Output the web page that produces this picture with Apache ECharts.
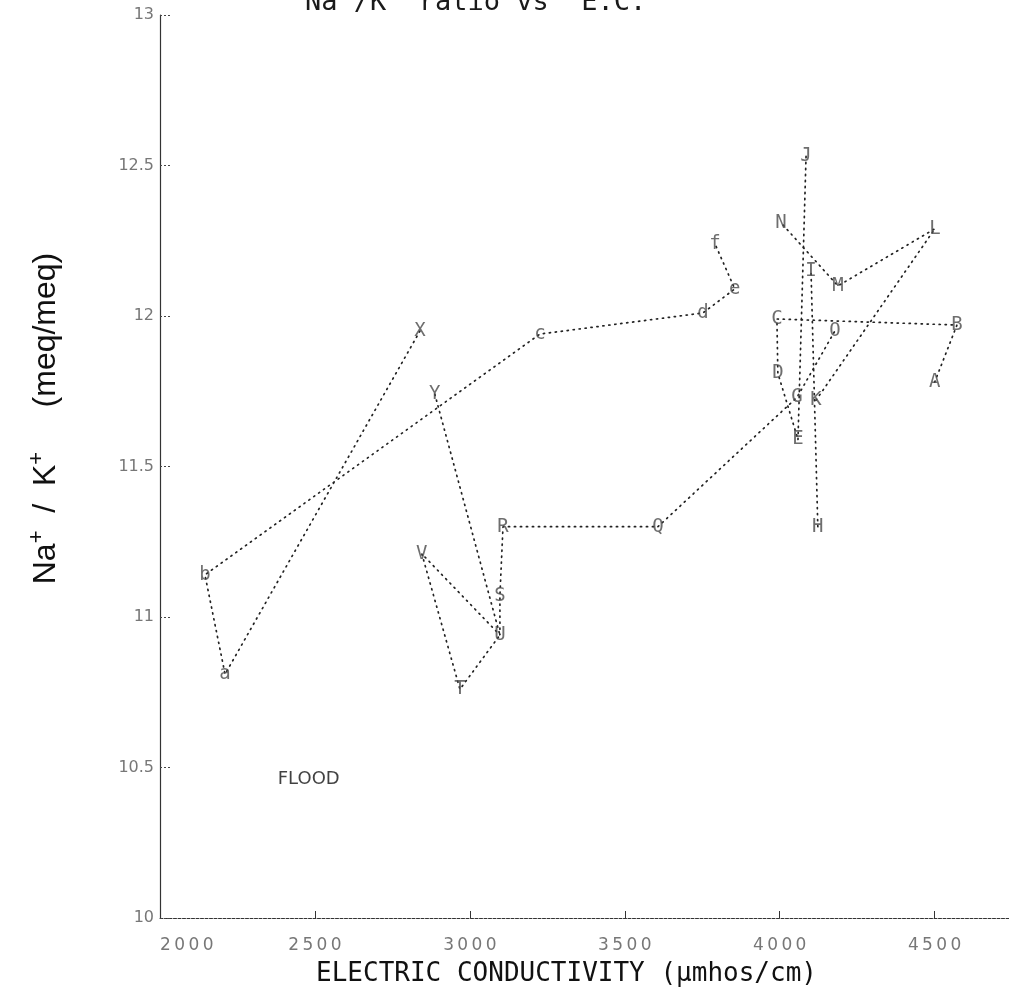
<!DOCTYPE html>
<html>
<head>
<meta charset="utf-8">
<script src="https://cdn.jsdelivr.net/npm/echarts@6/dist/echarts.min.js"></script>
<style>
  html, body { margin: 0; padding: 0; background: #ffffff; }
  #chart { width: 1009px; height: 1007px; }
</style>
</head>
<body>
<div id="chart"></div>
<script>
// Sampling points: letter code, electric conductivity (umhos/cm), Na+/K+ ratio (meq/meq)
const pointLabels  = ['A', 'B', 'C', 'D', 'E', 'G', 'K', 'H', 'I', 'J', 'L', 'M', 'N', 'O', 'Q', 'R', 'S', 'U', 'T', 'V', 'X', 'Y', 'a', 'b', 'c', 'd', 'e', 'f'];
const conductivity = [4500, 4572, 3991, 3994, 4059, 4056, 4117, 4123, 4101, 4085, 4501, 4188, 4004, 4178, 3607, 3107, 3097, 3097, 2968, 2845, 2839, 2887, 2210, 2145, 3226, 3752, 3855, 3791];
const naKRatio     = [11.78, 11.97, 11.99, 11.81, 11.59, 11.73, 11.72, 11.30, 12.15, 12.53, 12.29, 12.10, 12.31, 11.95, 11.30, 11.30, 11.07, 10.94, 10.76, 11.21, 11.95, 11.74, 10.81, 11.14, 11.94, 12.01, 12.09, 12.24];

// Dotted traces joining the sampling points, by letter code
const traces = [
  ['X', 'a', 'b', 'c', 'd', 'e', 'f'],
  ['A', 'B', 'C', 'D', 'E'],
  ['J', 'E'],
  ['Q', 'G', 'O'],
  ['H', 'I'],
  ['K', 'L', 'M', 'N'],
  ['Y', 'U', 'T', 'V', 'U', 'S', 'R', 'Q']
];

// Axis ticks
const xTicks = [2000, 2500, 3000, 3500, 4000, 4500];
const yTicks = [10, 10.5, 11, 11.5, 12, 12.5, 13];
const xAxisEnd = 4740;

// Annotation
const noteText  = ['FLOOD'];
const noteEC    = [2480];
const noteRatio = [10.46];

const pointOf = code => {
  const i = pointLabels.indexOf(code);
  return [conductivity[i], naKRatio[i]];
};

const traceSeries = traces.map(t => ({
  type: 'line',
  data: t.map(pointOf),
  symbol: 'none',
  silent: true,
  z: 2,
  lineStyle: { color: '#222', width: 1.7, type: [1.2, 4.8], cap: 'round' }
}));

const chart = echarts.init(document.getElementById('chart'), null, { renderer: 'canvas' });

chart.setOption({
  animation: false,
  backgroundColor: '#ffffff',
  title: {
    text: '{n|Na}{s|+}{n|/K}{s|+}{n| ratio vs  E.C.}',
    left: 300,
    top: -29,
    textStyle: {
      fontWeight: 'normal',
      rich: {
        n: { fontFamily: 'DejaVu Sans Mono', fontSize: 27, fontWeight: 'normal', color: '#1a1a1a', lineHeight: 40, verticalAlign: 'bottom' },
        s: { fontFamily: 'DejaVu Sans Mono', fontSize: 27, fontWeight: 'normal', color: '#1a1a1a', lineHeight: 12, verticalAlign: 'top' }
      }
    }
  },
  grid: { left: 160, right: 0, top: 15, bottom: 89, containLabel: false },
  xAxis: {
    type: 'value',
    min: xTicks[0],
    max: xAxisEnd,
    interval: xTicks[1] - xTicks[0],
    splitLine: { show: false },
    axisLine: { show: true, lineStyle: { color: '#333', width: 1, type: [3, 1.5] } },
    axisTick: { show: true, inside: true, length: 7, lineStyle: { color: '#333' } },
    axisLabel: {
      margin: 19,
      color: '#777',
      fontFamily: 'DejaVu Sans',
      fontSize: 17,
      alignMinLabel: 'left',
      showMaxLabel: false,
      formatter: v => xTicks.includes(v) ? String(v).split('').join('\u2009') : ''
    },
    name: 'ELECTRIC CONDUCTIVITY (\u03bcmhos/cm)',
    nameLocation: 'middle',
    nameGap: 43,
    nameTextStyle: { fontFamily: 'DejaVu Sans Mono', fontSize: 26, color: '#111', padding: [0, 36, 0, 0] }
  },
  yAxis: {
    type: 'value',
    min: yTicks[0],
    max: yTicks[yTicks.length - 1],
    interval: yTicks[1] - yTicks[0],
    splitLine: { show: false },
    axisLine: { show: true, lineStyle: { color: '#333', width: 1.2 } },
    axisTick: { show: true, inside: true, length: 10, lineStyle: { color: '#444', type: [2, 2] } },
    axisLabel: {
      margin: 6,
      color: '#777',
      fontFamily: 'DejaVu Sans',
      fontSize: 16,
      formatter: v => yTicks.includes(v) ? String(v) : ''
    },
    name: '{n|Na}{s|+}{n|  /  K}{s|+}{n|     (meq/meq)}',
    nameLocation: 'middle',
    nameRotate: 90,
    nameGap: 94,
    nameTextStyle: {
      padding: [0, 0, 0, 96],
      rich: {
        n: { fontFamily: 'Liberation Sans', fontSize: 32, color: '#111', lineHeight: 40, verticalAlign: 'middle' },
        s: { fontFamily: 'Liberation Sans', fontSize: 22, color: '#111', lineHeight: 14, verticalAlign: 'top' }
      }
    }
  },
  series: traceSeries.concat([
    {
      type: 'scatter',
      z: 5,
      silent: true,
      symbolSize: 1,
      itemStyle: { color: 'rgba(0,0,0,0)' },
      data: pointLabels.map((code, i) => ({ name: code, value: [conductivity[i], naKRatio[i]] })),
      label: {
        show: true,
        position: 'inside',
        formatter: p => p.name,
        fontFamily: 'DejaVu Sans Mono',
        fontSize: 19,
        color: '#4a4a4a'
      }
    },
    {
      type: 'scatter',
      z: 5,
      silent: true,
      symbolSize: 1,
      itemStyle: { color: 'rgba(0,0,0,0)' },
      data: noteText.map((t, i) => ({ name: t, value: [noteEC[i], noteRatio[i]] })),
      label: {
        show: true,
        position: 'inside',
        formatter: p => p.name,
        fontFamily: 'DejaVu Sans',
        fontSize: 18,
        color: '#111'
      }
    }
  ])
});
</script>
</body>
</html>
